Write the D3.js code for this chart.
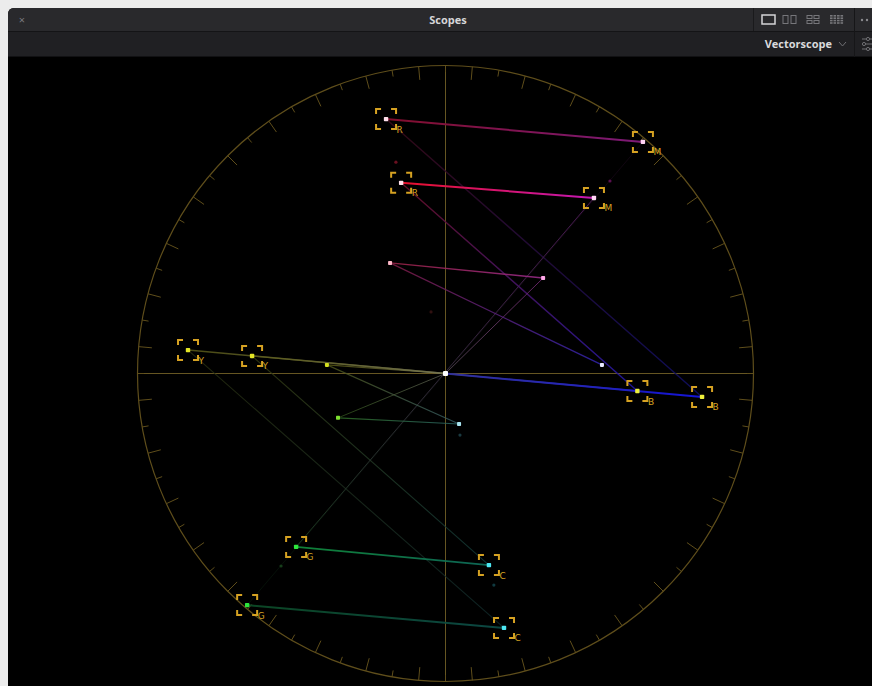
<!DOCTYPE html>
<html>
<head>
<meta charset="utf-8">
<script src="https://cdn.jsdelivr.net/npm/d3@7/dist/d3.min.js"></script>
<style>
  html, body { margin: 0; padding: 0; background: #ececec; }
  svg { display: block; }
</style>
</head>
<body>
<svg id="scope" width="872" height="686"></svg>
<script>
// ---- chart data (u/v chroma coordinates, graticule radius = 1) ----
const colourNames = ["Y", "C", "G", "M", "R", "B"];

// 100% colour-bar targets
const targetU100 = [-0.836, 0.190, -0.644, 0.641, -0.193, 0.833];
const targetV100 = [ 0.076, -0.826, -0.752, 0.752, 0.826, -0.076];

// 75% colour-bar targets
const targetU75 = [-0.628, 0.141, -0.485, 0.482, -0.144, 0.623];
const targetV75 = [ 0.057, -0.622, -0.563, 0.570, 0.619, -0.057];

// measured trace of the low-saturation bars
const traceU = [-0.385, 0.044, -0.349, 0.317, -0.180, 0.508];
const traceV = [ 0.028, -0.164, -0.144, 0.310, 0.359, 0.028];

// faint stray samples
const strayU = [-0.161, 0.534, 0.047, -0.534, 0.157, -0.047];
const strayV = [ 0.686, 0.625, -0.200, -0.625, -0.687, 0.200];
const strayColours = ["#6a1020", "#5a1050", "#1a3a40", "#163e1a", "#103a40", "#301010"];

// graticule ticks every 5 degrees
const tickAngles = d3.range(0, 360, 5);

// ---- layout ----
const svg = d3.select("#scope");
const W = 872, H = 686;
const cx = 445.5, cy = 373.5, R = 308;

const x = d3.scaleLinear().domain([-1, 1]).range([cx - R, cx + R]);
const y = d3.scaleLinear().domain([-1, 1]).range([cy + R, cy - R]);

// ---- window chrome ----
svg.append("rect").attr("x", 0).attr("y", 0).attr("width", W).attr("height", H).attr("fill", "#ececec");
svg.append("rect").attr("x", 8).attr("y", 8).attr("width", W + 20).attr("height", H + 20)
  .attr("rx", 6).attr("fill", "#000");
svg.append("path")
  .attr("d", `M8,31 V14 Q8,8 14,8 H${W} V31 Z`)
  .attr("fill", "#29292c");
svg.append("rect").attr("x", 8).attr("y", 31).attr("width", W).attr("height", 26).attr("fill", "#202023");
svg.append("line").attr("x1", 8).attr("x2", W).attr("y1", 31.5).attr("y2", 31.5).attr("stroke", "#141416");
svg.append("line").attr("x1", 8).attr("x2", W).attr("y1", 56.5).attr("y2", 56.5).attr("stroke", "#111113");

svg.append("text").attr("x", 22).attr("y", 24).attr("text-anchor", "middle")
  .attr("font-family", "Open Sans, sans-serif").attr("font-size", 11).attr("fill", "#7a7a7e").text("×");
svg.append("text").attr("x", 448).attr("y", 24).attr("text-anchor", "middle")
  .attr("font-family", "Open Sans, sans-serif").attr("font-weight", 700).attr("font-size", 11)
  .attr("fill", "#d6d6d8").text("Scopes");

// layout selector icons
const icons = svg.append("g");
icons.append("line").attr("x1", 753.5).attr("x2", 753.5).attr("y1", 8).attr("y2", 31).attr("stroke", "#1a1a1c");
icons.append("rect").attr("x", 762).attr("y", 15).attr("width", 13).attr("height", 9)
  .attr("fill", "none").attr("stroke", "#d4d4d6").attr("stroke-width", 1.5);
[[783, 6], [791, 6]].forEach(([ix, w]) => icons.append("rect").attr("x", ix).attr("y", 15.5)
  .attr("width", w - 1).attr("height", 8).attr("fill", "none").attr("stroke", "#77777b"));
[[807, 15.5], [814, 15.5], [807, 20.5], [814, 20.5]].forEach(([ix, iy]) => icons.append("rect")
  .attr("x", ix).attr("y", iy).attr("width", 5).attr("height", 3).attr("fill", "none").attr("stroke", "#77777b"));
for (let r = 0; r < 4; r++) for (let c = 0; c < 4; c++)
  icons.append("rect").attr("x", 830 + c * 3.5).attr("y", 15 + r * 2.4).attr("width", 2.6).attr("height", 1.6).attr("fill", "#77777b");
icons.append("line").attr("x1", 854.5).attr("x2", 854.5).attr("y1", 8).attr("y2", 57).attr("stroke", "#161618");
[862, 867].forEach(ix => icons.append("circle").attr("cx", ix).attr("cy", 20).attr("r", 1.2).attr("fill", "#8a8a8e"));

svg.append("text").attr("x", 832).attr("y", 48).attr("text-anchor", "end")
  .attr("font-family", "Open Sans, sans-serif").attr("font-weight", 700).attr("font-size", 11)
  .attr("fill", "#dadadc").text("Vectorscope");
svg.append("path").attr("d", "M839,42 L842.5,46 L846,42").attr("fill", "none")
  .attr("stroke", "#6e6e72").attr("stroke-width", 1);
// settings sliders icon
const sl = svg.append("g").attr("stroke", "#6e6e72").attr("fill", "none");
[39, 44, 49].forEach((iy, i) => {
  sl.append("line").attr("x1", 862).attr("x2", 872).attr("y1", iy).attr("y2", iy);
  sl.append("circle").attr("cx", [868, 864, 868][i]).attr("cy", iy).attr("r", 1.6).attr("fill", "#202023");
});

// ---- graticule ----
const scope = svg.append("g");
const gold = "#5f4e1b";
const crossColour = "#665622";

scope.append("circle").attr("cx", x(0)).attr("cy", y(0)).attr("r", x(1) - x(0))
  .attr("fill", "none").attr("stroke", gold).attr("stroke-width", 1.2);
scope.append("line").attr("x1", x(0)).attr("x2", x(0)).attr("y1", y(1)).attr("y2", y(-1))
  .attr("stroke", crossColour).attr("stroke-width", 1);
scope.append("line").attr("x1", x(-1)).attr("x2", x(1)).attr("y1", y(0)).attr("y2", y(0))
  .attr("stroke", crossColour).attr("stroke-width", 1);

scope.append("g").selectAll("line").data(tickAngles).join("line")
  .each(function (a) {
    const rad = a * Math.PI / 180;
    const len = (a % 10 === 5) ? 0.043 : 0.021;
    d3.select(this)
      .attr("x1", x(Math.cos(rad))).attr("y1", y(Math.sin(rad)))
      .attr("x2", x((1 - len) * Math.cos(rad))).attr("y2", y((1 - len) * Math.sin(rad)));
  })
  .attr("stroke", gold).attr("stroke-width", 1);

// ---- traces ----
const defs = svg.append("defs");
let gradId = 0;
const traceLayer = svg.append("g");
function segment(p0, p1, c0, c1, width, opacity) {
  const id = "seg" + (gradId++);
  const g = defs.append("linearGradient").attr("id", id).attr("gradientUnits", "userSpaceOnUse")
    .attr("x1", x(p0[0])).attr("y1", y(p0[1])).attr("x2", x(p1[0])).attr("y2", y(p1[1]));
  g.append("stop").attr("offset", "0%").attr("stop-color", c0);
  g.append("stop").attr("offset", "100%").attr("stop-color", c1);
  traceLayer.append("line")
    .attr("x1", x(p0[0])).attr("y1", y(p0[1])).attr("x2", x(p1[0])).attr("y2", y(p1[1]))
    .attr("stroke", `url(#${id})`).attr("stroke-width", width).attr("stroke-opacity", opacity)
    .attr("stroke-linecap", "round");
}

const pts = (us, vs) => us.map((u, i) => [u, vs[i]]);
const P100 = pts(targetU100, targetV100);
const P75 = pts(targetU75, targetV75);
const PT = pts(traceU, traceV);
const O = [0, 0];
const idx = n => colourNames.indexOf(n);

// 100% bars: white -> Y -> C -> G -> M -> R -> B -> black
segment(O, P100[idx("Y")], "#6a6a48", "#5a5a18", 1.5, 0.85);
segment(P100[idx("Y")], P100[idx("C")], "#2a3010", "#102a2c", 1.1, 0.8);
segment(P100[idx("C")], P100[idx("G")], "#0c4a46", "#0c4a26", 2, 0.95);
segment(P100[idx("G")], P100[idx("M")], "#08200e", "#200820", 1, 0.5);
segment(P100[idx("M")], P100[idx("R")], "#7e1a78", "#820e2c", 2, 1);
segment(P100[idx("R")], P100[idx("B")], "#3a0a18", "#10106a", 1.4, 0.85);
segment(P100[idx("B")], O, "#1414d8", "#2a2a90", 2, 1);

// 75% bars
segment(O, P75[idx("Y")], "#707050", "#5e5e1a", 1.4, 0.8);
segment(P75[idx("Y")], P75[idx("C")], "#363c12", "#123a3a", 1.1, 0.8);
segment(P75[idx("C")], P75[idx("G")], "#0e6a5a", "#10883a", 1.8, 0.95);
segment(P75[idx("G")], P75[idx("M")], "#1e4022", "#5a1e66", 1, 0.8);
segment(P75[idx("M")], P75[idx("R")], "#c418b4", "#e8102a", 2, 1);
segment(P75[idx("R")], P75[idx("B")], "#6a1028", "#2218a8", 1.4, 0.9);
segment(P75[idx("B")], O, "#2020c0", "#36369a", 1.4, 0.8);

// low-saturation bars
segment(O, PT[idx("Y")], "#7a7a58", "#6a6a18", 1.1, 0.7);
segment(PT[idx("Y")], PT[idx("C")], "#50561a", "#365e66", 1.1, 0.8);
segment(PT[idx("C")], PT[idx("G")], "#2a6262", "#2e6a24", 1.1, 0.85);
segment(PT[idx("G")], O, "#2e5018", "#5a5a50", 1, 0.8);
segment(O, PT[idx("M")], "#5a4e5a", "#7a2a7a", 1, 0.8);
segment(PT[idx("M")], PT[idx("R")], "#962a88", "#982244", 1.4, 0.9);
segment(PT[idx("R")], PT[idx("B")], "#801c44", "#3024b0", 1.3, 0.85);

// stray samples
traceLayer.selectAll("circle.stray").data(pts(strayU, strayV)).join("circle")
  .attr("class", "stray").attr("cx", d => x(d[0])).attr("cy", d => y(d[1])).attr("r", 1.6)
  .attr("fill", (d, i) => strayColours[i]);

// ---- targets ----
const bracketColour = "#d6a222";
function drawTargets(P) {
  const g = svg.append("g");
  P.forEach((p, i) => {
    const px = x(p[0]), py = y(p[1]);
    const h = 10, a = 5;
    const corners = [
      `M${px - h},${py - h + a} V${py - h} H${px - h + a}`,
      `M${px + h - a},${py - h} H${px + h} V${py - h + a}`,
      `M${px - h},${py + h - a} V${py + h} H${px - h + a}`,
      `M${px + h - a},${py + h} H${px + h} V${py + h - a}`
    ];
    g.append("path").attr("d", corners.join(" ")).attr("fill", "none")
      .attr("stroke", bracketColour).attr("stroke-width", 2);
    g.append("text").attr("x", px + 10.5).attr("y", py + 13.5)
      .attr("font-family", "DejaVu Sans, sans-serif").attr("font-size", 9)
      .attr("fill", bracketColour).text(colourNames[i]);
  });
}
drawTargets(P100);
drawTargets(P75);

// ---- trace sample dots ----
const dotColour = { Y: "#e4e626", C: "#4ee8f4", G: "#2ee63c", M: "#ffd4f4", R: "#ffe0ec", B: "#eef03c" };
const traceDot = { Y: "#d4e020", C: "#a8e4f0", G: "#7ee030", M: "#ffa8e8", R: "#ffb8c8", B: "#e8e8ff" };
function drawDots(P, colours, r) {
  svg.append("g").selectAll("rect").data(P).join("rect")
    .attr("x", d => x(d[0]) - r).attr("y", d => y(d[1]) - r)
    .attr("width", 2 * r).attr("height", 2 * r).attr("rx", 0.8)
    .attr("fill", (d, i) => colours[colourNames[i]]);
}
drawDots(P100, dotColour, 2.2);
drawDots(P75, dotColour, 2.2);
drawDots(PT, traceDot, 2);
svg.append("rect").attr("x", x(0) - 2.5).attr("y", y(0) - 2.5).attr("width", 5).attr("height", 5)
  .attr("rx", 1).attr("fill", "#ffffff");
</script>
</body>
</html>
